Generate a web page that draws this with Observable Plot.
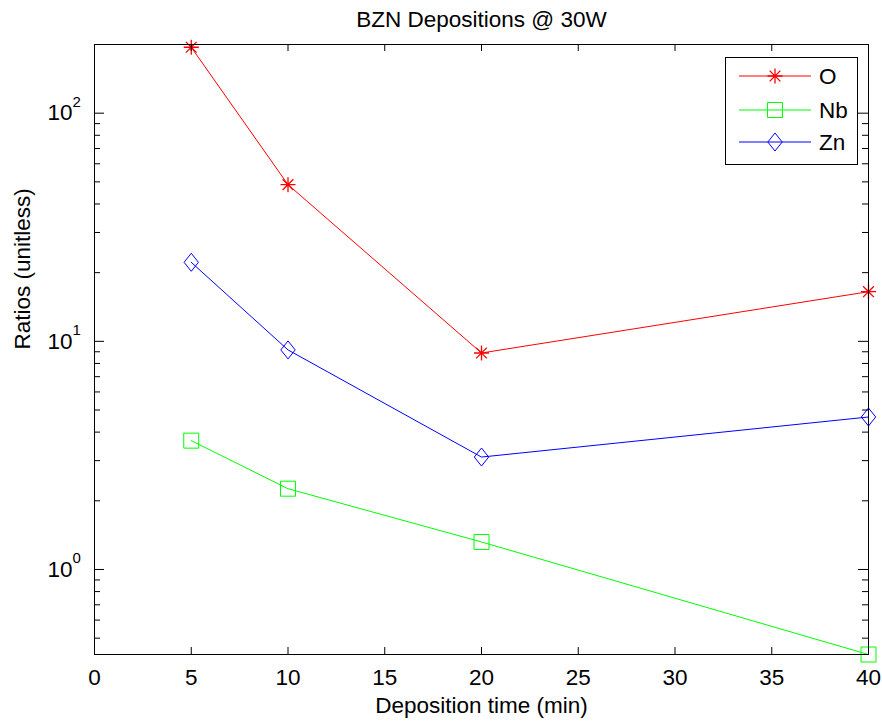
<!DOCTYPE html>
<html>
<head>
<meta charset="utf-8">
<script src="https://cdn.jsdelivr.net/npm/d3@7"></script>
<script src="https://cdn.jsdelivr.net/npm/@observablehq/plot@0.6"></script>
<style>
  html, body { margin: 0; padding: 0; background: #fff; }
  #chart { position: relative; width: 882px; height: 721px; font-family: "Liberation Sans", Arial, Helvetica, sans-serif; }
  #legend { position: absolute; box-sizing: border-box; background: #fff; border: 1px solid #000; }
</style>
</head>
<body>
<div id="chart"></div>
<script>
// Deposition time (min)
const times = [5, 10, 20, 40];
// Ratios per element
const oxygen = [194.5, 48.6, 8.89, 16.5];
const niobium = [3.67, 2.26, 1.32, 0.424];
const zinc = [22.2, 9.17, 3.11, 4.66];

const seriesNames = ["O", "Nb", "Zn"];
const seriesColors = ["#ff0000", "#00ff00", "#0000ff"];

const titleText = "BZN Depositions @ 30W";
const xLabel = "Deposition time (min)";
const yLabel = "Ratios (unitless)";

const xTicks = [0, 5, 10, 15, 20, 25, 30, 35, 40];
const yMajor = [1, 10, 100];
const yExponents = ["0", "1", "2"];
const yMinor = [0.5, 0.6, 0.7, 0.8, 0.9, 2, 3, 4, 5, 6, 7, 8, 9, 20, 30, 40, 50, 60, 70, 80, 90];

// Marker shapes
const asterisk = {
  draw(ctx, size) {
    const r = Math.sqrt(size / Math.PI), d = r * 0.72;
    ctx.moveTo(-r, 0); ctx.lineTo(r, 0);
    ctx.moveTo(0, -r); ctx.lineTo(0, r);
    ctx.moveTo(-d, -d); ctx.lineTo(d, d);
    ctx.moveTo(-d, d); ctx.lineTo(d, -d);
  }
};
const square = {
  draw(ctx, size) {
    const r = Math.sqrt(size / Math.PI);
    ctx.rect(-r, -r, 2 * r, 2 * r);
  }
};
const diamond = {
  draw(ctx, size) {
    const h = Math.sqrt(size / Math.PI), w = h * 0.8;
    ctx.moveTo(0, -h); ctx.lineTo(w, 0); ctx.lineTo(0, h); ctx.lineTo(-w, 0); ctx.closePath();
  }
};
const symbols = [asterisk, square, diamond];
const symbolR = [7.5, 7.5, 9];

const valuesBySeries = [oxygen, niobium, zinc];
const rows = valuesBySeries.flatMap((vals, s) =>
  vals.map((v, i) => ({series: seriesNames[s], t: times[i], v}))
);

const W = 882, H = 721;
const mL = 94, mR = 14, mT = 44, mB = 67;
const innerW = W - mL - mR, innerH = H - mT - mB;
const font = '"Liberation Sans", Arial, Helvetica, sans-serif';
const fs = 22.5;

const plot = Plot.plot({
  width: W, height: H,
  marginLeft: mL, marginRight: mR, marginTop: mT, marginBottom: mB,
  style: {fontFamily: font, fontSize: fs + "px", color: "#000", background: "#fff", overflow: "visible"},
  x: {domain: [0, 40], axis: null},
  y: {type: "log", domain: [0.424, 200], axis: null},
  color: {domain: seriesNames, range: seriesColors},
  marks: [
    // data lines
    Plot.line(rows, {x: "t", y: "v", z: "series", stroke: "series", strokeWidth: 1}),
    // markers
    ...seriesNames.map((name, s) =>
      Plot.dot(rows.filter(d => d.series === name), {
        x: "t", y: "v", symbol: () => symbols[s], r: symbolR[s],
        stroke: seriesColors[s], fill: "none", strokeWidth: s === 0 ? 1.3 : 1
      })
    ),
    // inward ticks on all four sides
    Plot.ruleX(xTicks.slice(1, -1), {x: d => d, insetTop: innerH - 7, stroke: "#000"}),
    Plot.ruleX(xTicks.slice(1, -1), {x: d => d, insetBottom: innerH - 7, stroke: "#000"}),
    Plot.ruleY(yMajor, {y: d => d, insetRight: innerW - 10, stroke: "#000"}),
    Plot.ruleY(yMinor, {y: d => d, insetRight: innerW - 6, stroke: "#000"}),
    Plot.ruleY(yMajor, {y: d => d, insetLeft: innerW - 10, stroke: "#000"}),
    Plot.ruleY(yMinor, {y: d => d, insetLeft: innerW - 6, stroke: "#000"}),
    Plot.frame({stroke: "#000", strokeWidth: 1}),
    // tick labels
    Plot.text(xTicks, {x: d => d, text: d => String(d), frameAnchor: "bottom", dy: 30, fontSize: fs}),
    Plot.text(yMajor, {y: d => d, text: () => "10", frameAnchor: "left", textAnchor: "end", dx: -22, fontSize: fs}),
    Plot.text(yMajor, {y: d => d, text: (d, i) => yExponents[i], frameAnchor: "left", textAnchor: "start", dx: -22, dy: -11, fontSize: 15}),
    // title and axis labels
    Plot.text([titleText], {text: d => d, frameAnchor: "top", dy: -33, fontSize: fs}),
    Plot.text([xLabel], {text: d => d, frameAnchor: "bottom", dy: 58, fontSize: fs}),
    Plot.text([yLabel], {text: d => d, frameAnchor: "left", dx: -72, rotate: -90, fontSize: fs})
  ]
});

const chart = document.getElementById("chart");
chart.appendChild(plot);

// legend box inside the axes, top right
const legend = d3.select(chart).append("div").attr("id", "legend")
  .style("left", "725px").style("top", "57px")
  .style("width", "133px").style("height", "108px");
const lsvg = legend.append("svg").attr("width", 131).attr("height", 106)
  .style("display", "block");
const rowY = [18, 52, 84];
seriesNames.forEach((name, s) => {
  const g = lsvg.append("g").attr("transform", `translate(0,${rowY[s]})`);
  g.append("line").attr("x1", 13).attr("x2", 85).attr("y1", 0).attr("y2", 0)
    .attr("stroke", seriesColors[s]).attr("stroke-width", 1);
  g.append("path").attr("transform", "translate(49,0)")
    .attr("d", d3.symbol(symbols[s], Math.PI * symbolR[s] * symbolR[s])())
    .attr("fill", "none").attr("stroke", seriesColors[s]).attr("stroke-width", s === 0 ? 1.3 : 1);
  g.append("text").attr("x", 93).attr("y", 0).attr("dy", "0.35em")
    .attr("font-family", font).attr("font-size", fs).attr("fill", "#000")
    .text(name);
});
</script>
</body>
</html>
